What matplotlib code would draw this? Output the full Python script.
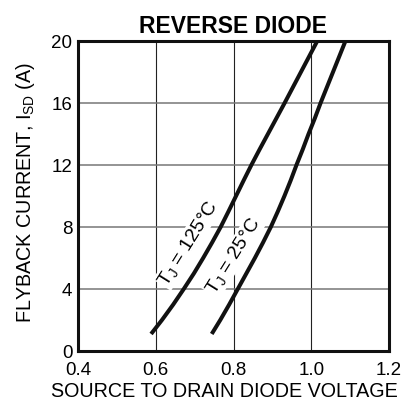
import matplotlib
matplotlib.use("Agg")
import matplotlib.pyplot as plt

plt.rcParams['font.family'] = ['Liberation Sans', 'DejaVu Sans']
plt.rcParams['mathtext.default'] = 'regular'

# flyback current (A) and source-drain voltage (V)
i_sd = [1.1, 2, 3, 4, 5, 6, 7, 8, 9, 10, 11, 12, 13, 14, 15, 16, 17, 18, 19, 20]
v_125 = [0.588, 0.616, 0.645, 0.672, 0.698, 0.722, 0.745, 0.767, 0.787, 0.8065,
         0.826, 0.846, 0.867, 0.8885, 0.910, 0.9315, 0.9525, 0.9735, 0.9945, 1.0155]
v_25 = [0.744, 0.766, 0.789, 0.811, 0.833, 0.855, 0.876, 0.896, 0.914, 0.931,
        0.947, 0.962, 0.978, 0.993, 1.009, 1.024, 1.040, 1.056, 1.072, 1.088]

x_ticks = [0.4, 0.6, 0.8, 1.0, 1.2]
x_ticklabels = ["0.4", "0.6", "0.8", "1.0", "1.2"]
y_ticks = [0, 4, 8, 12, 16, 20]

fig = plt.figure(figsize=(4.03, 4.04), dpi=100)
ax = fig.add_axes([78 / 403, 1 - 351 / 404, 311 / 403, 310 / 404])

ax.plot(v_125, i_sd, color='#111111', lw=2.9, solid_capstyle='butt',
        solid_joinstyle='round', zorder=3)
ax.plot(v_25, i_sd, color='#111111', lw=2.9, solid_capstyle='butt',
        solid_joinstyle='round', zorder=3)

# curve labels with white background (they cut the grid)
ax.text(0.683, 6.95, "T$_J$ = 125°C", rotation=58, ha='center', va='center',
        rotation_mode='anchor', fontsize=14,
        bbox=dict(facecolor='white', edgecolor='none', pad=0.5), zorder=2)
ax.text(0.800, 6.1, "T$_J$ = 25°C", rotation=58, ha='center', va='center',
        rotation_mode='anchor', fontsize=14,
        bbox=dict(facecolor='white', edgecolor='none', pad=0.5), zorder=2)

ax.set_xlim(0.4, 1.2)
ax.set_ylim(0, 20)
ax.set_xticks(x_ticks)
ax.set_xticklabels(x_ticklabels)
ax.set_yticks(y_ticks)
ax.tick_params(length=0, labelsize=13.5)
ax.tick_params(axis='x', pad=8)
ax.tick_params(axis='y', pad=4)
ax.xaxis.grid(True, color='#222222', lw=0.8)
ax.yaxis.grid(True, color='#777777', lw=1.1)
ax.set_axisbelow(True)
for s in ax.spines.values():
    s.set_linewidth(2.2)
    s.set_color('#111111')

ax.set_title("REVERSE DIODE", fontsize=16.5, fontweight='bold', pad=6)
ax.set_xlabel("SOURCE TO DRAIN DIODE VOLTAGE", fontsize=14.2)
ax.xaxis.set_label_coords(0.471, -0.131)
ax.xaxis.label.set_va('center')
ax.set_ylabel("FLYBACK CURRENT, I$_{SD}$ (A)", fontsize=14.2)
ax.yaxis.set_label_coords(-0.170, 0.511)
ax.yaxis.label.set_va('center')

plt.savefig("out.png", dpi=100)
